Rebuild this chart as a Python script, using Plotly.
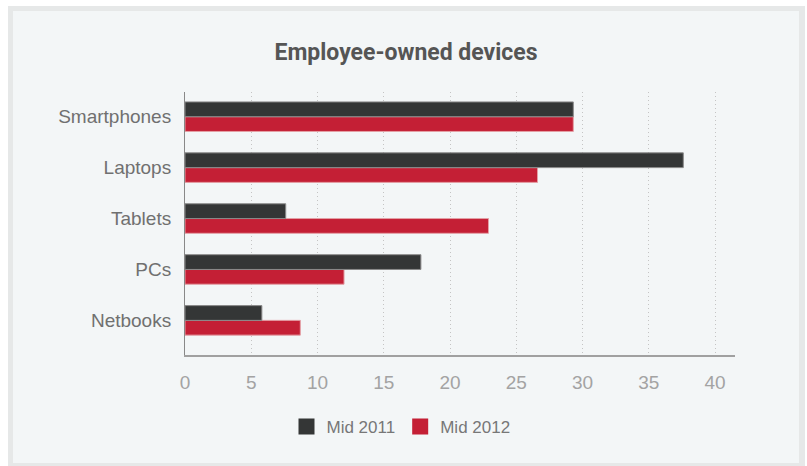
import plotly.graph_objects as go

# ---- data ----
categories = ["Smartphones", "Laptops", "Tablets", "PCs", "Netbooks"]
series_names = ["Mid 2011", "Mid 2012"]
mid_2011 = [29.3, 37.6, 7.6, 17.8, 5.8]
mid_2012 = [29.3, 26.6, 22.9, 12.0, 8.7]
x_ticks = [0, 5, 10, 15, 20, 25, 30, 35, 40]

# ---- style ----
W, H = 807, 466
L, R, T, B = 185, 735, 92, 355   # plot area in pixels
DARK = "#343636"
RED = "#c41f35"
TITLE_FONT = "Roboto"
FONT = "Liberation Sans"

def px_x(p):
    return (p - L) / (R - L)

def px_y(p):
    return (B - p) / (B - T)

order = categories[::-1]  # bottom to top
fig = go.Figure()
# in horizontal grouped bars the first trace sits lowest, so add 2012 first
fig.add_trace(go.Bar(
    y=categories, x=mid_2012, orientation="h", name=series_names[1],
    marker=dict(color=RED, line=dict(color="#e4a0a6", width=1)),
    showlegend=False,
))
fig.add_trace(go.Bar(
    y=categories, x=mid_2011, orientation="h", name=series_names[0],
    marker=dict(color=DARK, line=dict(color="#8a8a8a", width=1)),
    showlegend=False,
))
# legend entries
for nm, col in zip(series_names, [DARK, RED]):
    fig.add_trace(go.Scatter(
        x=[None], y=[None], mode="markers", name=nm,
        marker=dict(symbol="square", size=20, color=col),
    ))

shapes = [
    dict(type="rect", xref="paper", yref="paper", layer="below",
         x0=px_x(8), x1=px_x(805), y0=px_y(472), y1=px_y(6),
         fillcolor="#e6e8e8", line=dict(width=0)),
    dict(type="rect", xref="paper", yref="paper", layer="below",
         x0=px_x(13), x1=px_x(799), y0=px_y(463), y1=px_y(11),
         fillcolor="#f3f6f7", line=dict(width=0)),
]

fig.update_layout(
    width=W, height=H,
    margin=dict(l=L, r=W - R, t=T, b=H - B, pad=0),
    paper_bgcolor="white",
    plot_bgcolor="rgba(0,0,0,0)",
    barmode="group",
    bargap=0.42,
    bargroupgap=0,
    shapes=shapes,
    title=dict(
        text="<b>Employee-owned devices</b>",
        x=406 / W, xanchor="center", xref="container",
        y=1 - 52 / H, yanchor="middle", yref="container",
        font=dict(family=TITLE_FONT, size=23, color="#555555"),
    ),
    xaxis=dict(
        range=[0, 41.5],
        tickvals=x_ticks,
        ticktext=[str(v) for v in x_ticks],
        showgrid=True, gridcolor="#c4c4c4", griddash="1px,3px", gridwidth=1,
        zeroline=False,
        showline=True, linecolor="#a0a0a0", linewidth=2,
        ticks="", ticklabelstandoff=9,
        tickfont=dict(family=FONT, size=19, color="#a3a3a3"),
        fixedrange=True,
    ),
    yaxis=dict(
        categoryorder="array", categoryarray=order,
        range=[-0.68, 4.485],
        showgrid=False, zeroline=False,
        showline=True, linecolor="#888888", linewidth=1,
        ticks="", ticklabelstandoff=9,
        tickfont=dict(family=FONT, size=19, color="#707070"),
        fixedrange=True,
    ),
    legend=dict(
        orientation="h",
        x=px_x(401), xanchor="center",
        y=px_y(427), yanchor="middle",
        font=dict(family=FONT, size=17, color="#777777"),
        bgcolor="rgba(0,0,0,0)",
        itemsizing="trace",
        traceorder="normal",
    ),
)

fig.write_html("out.html")
